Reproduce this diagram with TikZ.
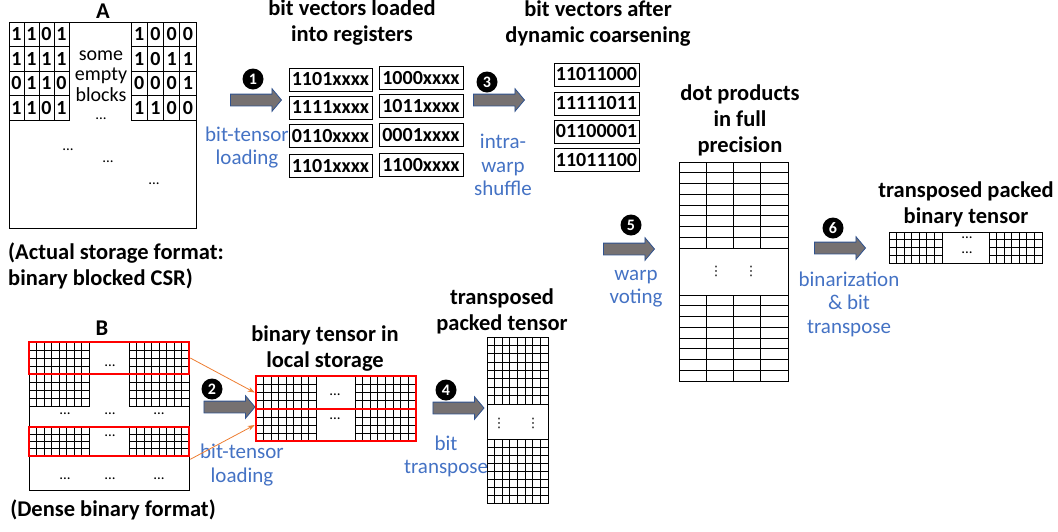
\documentclass[tikz,border=0pt]{standalone}
\usepackage{fontspec}
\setmainfont{Carlito}
\newfontfamily\dejavu{DejaVu Sans}
\usetikzlibrary{shapes.arrows,arrows.meta}
\definecolor{lblue}{RGB}{68,114,196}
\definecolor{agray}{RGB}{118,113,113}
\definecolor{aedge}{RGB}{47,82,143}
\definecolor{orng}{RGB}{237,125,49}
\definecolor{redb}{RGB}{255,0,0}
% cell grid: x1,y1,x2,y2,cols,rows
\newcommand\cellgrid[6]{%
  \pgfmathsetmacro\cgdx{(#3-#1)/#5}%
  \pgfmathsetmacro\cgdy{(#4-#2)/#6}%
  \foreach \k in {1,...,#5} {\draw[gl] ({#1+\k*\cgdx},#2) -- ({#1+\k*\cgdx},#4);}
  \foreach \k in {1,...,#6} {\draw[gl] (#1,{#2+\k*\cgdy}) -- (#3,{#2+\k*\cgdy});}
  \draw[gl] (#1,#2) rectangle (#3,#4);
}
\tikzset{
  title/.style={font=\bfseries\fontsize{22.5}{26}\selectfont, align=center, inner sep=0},
  bluelabel/.style={text=lblue, font=\fontsize{21}{23.5}\selectfont, align=center, inner sep=0},
  bigarrow/.style={single arrow, draw=aedge, fill=agray, line width=0.8, minimum height=51, inner xsep=0, inner ysep=5.5, single arrow head extend=5.5, single arrow tip angle=100},
  numc/.style={circle, fill=black, text=white, minimum size=21, inner sep=0, font=\bfseries\fontsize{16}{16}\selectfont},
  reg/.style={draw, line width=0.9, minimum height=23, inner sep=0, font=\bfseries\fontsize{20}{20}\selectfont},
  redbox/.style={draw=redb, line width=2.6, inner sep=0},
  link/.style={orng, line width=0.8, -{Stealth[length=7,width=5]}},
  dotsn/.style={inner sep=0, font=\fontsize{15}{15}\selectfont},
  vdotsn/.style={inner sep=0, font=\dejavu\fontsize{13}{13}\selectfont},
  digit/.style={inner sep=0, font=\bfseries\fontsize{20}{20}\selectfont},
  plain/.style={inner sep=0, font=\fontsize{20}{20.5}\selectfont, align=center},
  gl/.style={line width=0.9},
  outer/.style={line width=1.0}
}
\begin{document}
\begin{tikzpicture}[x=1pt,y=-1pt]
\useasboundingbox (0,0) rectangle (1058,531);

% ---------- Matrix A ----------
\node[title] (tA) at (103,11) {A};
\draw[outer] (9,22) rectangle (196,228);
\cellgrid{9}{22}{69}{120}{4}{4}
\cellgrid{131}{22}{196}{120}{4}{4}
\foreach \r/\a/\b/\c/\d in {1/1/1/0/1, 2/1/1/1/1, 3/0/1/1/0, 4/1/1/0/1} {
  \node[digit] (al\r a) at (16.5,{22+(\r-0.5)*24.5}) {\a};
  \node[digit] (al\r b) at (31.5,{22+(\r-0.5)*24.5}) {\b};
  \node[digit] (al\r c) at (46.5,{22+(\r-0.5)*24.5}) {\c};
  \node[digit] (al\r d) at (61.5,{22+(\r-0.5)*24.5}) {\d};
}
\foreach \r/\a/\b/\c/\d in {1/1/0/0/0, 2/1/0/1/1, 3/0/0/0/1, 4/1/1/0/0} {
  \node[digit] (ar\r a) at (139.1,{22+(\r-0.5)*24.5}) {\a};
  \node[digit] (ar\r b) at (155.4,{22+(\r-0.5)*24.5}) {\b};
  \node[digit] (ar\r c) at (171.6,{22+(\r-0.5)*24.5}) {\c};
  \node[digit] (ar\r d) at (187.9,{22+(\r-0.5)*24.5}) {\d};
}
\node[plain] (empty) at (101,76) {some\\empty\\blocks};
\node[dotsn] (ad0) at (101,119) {...};
\node[dotsn] (ad1) at (68,150) {...};
\node[dotsn] (ad2) at (108,162) {...};
\node[dotsn] (ad3) at (154,184) {...};
\node[title, align=left, anchor=west] (capA) at (8,265.5) {(Actual storage format:\\binary blocked CSR)};

% ---------- step 1 ----------
\node[numc] (n1) at (253,79) {1};
\node[bigarrow] (ar1) at (253.5,100) {};
\node[bluelabel] (l1) at (247,147.5) {bit-tensor\\loading};
\node[title] (t1) at (352,23) {bit vectors loaded\\into registers};
\foreach \i/\y/\txt in {1/79.5/1101xxxx, 2/107.5/1111xxxx, 3/136/0110xxxx, 4/166/1101xxxx}
  \node[reg, minimum width=83] (rl\i) at (330.5,\y) {\txt};
\foreach \i/\y/\txt in {1/78/1000xxxx, 2/106/1011xxxx, 3/135/0001xxxx, 4/165/1100xxxx}
  \node[reg, minimum width=84] (rr\i) at (421,\y) {\txt};

% ---------- step 3 ----------
\node[numc] (n3) at (487,82) {3};
\node[bigarrow] (ar3) at (496.5,100) {};
\node[bluelabel] (l3) at (503,165) {intra-\\warp\\shuffle};
\node[title] (t3) at (598,24) {bit vectors after\\dynamic coarsening};
\foreach \i/\y/\txt in {1/74.5/11011000, 2/103.5/11111011, 3/131.5/01100001, 4/160/11011100}
  \node[reg, minimum width=85] (rc\i) at (596.5,\y) {\txt};

% ---------- dot products ----------
\node[title] (t5) at (740,120.5) {dot products\\in full\\precision};
\draw[outer] (679,162) rectangle (788,381);
\cellgrid{679}{162}{788}{248}{4}{8}
\cellgrid{679}{295}{788}{381}{4}{8}
\node[vdotsn] (dp1) at (716,271) {⋮};
\node[vdotsn] (dp2) at (751,271) {⋮};
\node[numc] (n5) at (631,225) {5};
\node[bigarrow] (ar5) at (626.5,249) {};
\node[bluelabel] (l5) at (636,288.5) {warp\\voting};

% ---------- step 6 ----------
\node[numc] (n6) at (833,228) {6};
\node[bigarrow] (ar6) at (837.5,248) {};
\node[bluelabel] (l6) at (849,304) {binarization\\\& bit\\transpose};
\node[title] (t6) at (966,204) {transposed packed\\binary tensor};
\draw[outer] (889,232) rectangle (1042,263);
\cellgrid{889}{232}{942}{263}{7}{4}
\cellgrid{989}{232}{1042}{263}{7}{4}
\node[dotsn] (td1) at (967,238) {...};
\node[dotsn] (td2) at (967,253) {...};

% ---------- Matrix B ----------
\node[title] (tB) at (102,328) {B};
\draw[outer] (29,342) rectangle (189,490);
\cellgrid{29}{342}{89}{374}{8}{4}
\cellgrid{129}{342}{189}{374}{8}{4}
\cellgrid{29}{374}{89}{406}{8}{4}
\cellgrid{129}{374}{189}{406}{8}{4}
\cellgrid{29}{427}{89}{456}{8}{4}
\cellgrid{129}{427}{189}{456}{8}{4}
\node[dotsn] (bd0) at (110,366) {...};
\node[dotsn] (bd1) at (65,414) {...};
\node[dotsn] (bd2) at (110,414) {...};
\node[dotsn] (bd3) at (159,414) {...};
\node[dotsn] (bd4) at (110,436) {...};
\node[dotsn] (bd5) at (65,479) {...};
\node[dotsn] (bd6) at (110,479) {...};
\node[dotsn] (bd7) at (159,479) {...};
\node[redbox, minimum width=160, minimum height=32] (b1) at (109,358) {};
\node[redbox, minimum width=160, minimum height=29] (b4) at (109,441.5) {};
\node[title] (capB) at (113,510) {(Dense binary format)};

% ---------- step 2 ----------
\node[numc] (n2) at (212,389) {2};
\node[bigarrow] (ar2) at (227,407) {};
\node[bluelabel] (l2) at (242,465) {bit-tensor\\loading};
\node[title] (t2) at (325,348.5) {binary tensor in\\local storage};
\cellgrid{256}{376}{316}{409}{8}{4}
\cellgrid{355}{376}{416}{409}{8}{4}
\cellgrid{256}{409}{316}{441}{8}{4}
\cellgrid{355}{409}{416}{441}{8}{4}
\node[dotsn] (ld1) at (335,395) {...};
\node[dotsn] (ld2) at (335,419) {...};
\node[redbox, minimum width=160, minimum height=33] (lt) at (336,392.5) {};
\node[redbox, minimum width=160, minimum height=32] (lb) at (336,425) {};
\coordinate (b4out) at ([yshift=-2]b4.south east);
\draw[link] (b1.east) -- (lt.west);
\draw[link] (b4out) -- (lb.west);

% ---------- step 4 ----------
\node[numc] (n4) at (446,390) {4};
\node[bigarrow] (ar4) at (456,408) {};
\node[bluelabel] (l4) at (446,456.5) {bit\\transpose};
\node[title] (t4) at (502,311.5) {transposed\\packed tensor};
\draw[outer] (487,337) rectangle (548,503);
\cellgrid{487}{337}{548}{404}{8}{8}
\cellgrid{487}{439}{548}{503}{8}{8}
\node[vdotsn] (pd1) at (499,423) {⋮};
\node[vdotsn] (pd2) at (533,423) {⋮};
\end{tikzpicture}
\end{document}
